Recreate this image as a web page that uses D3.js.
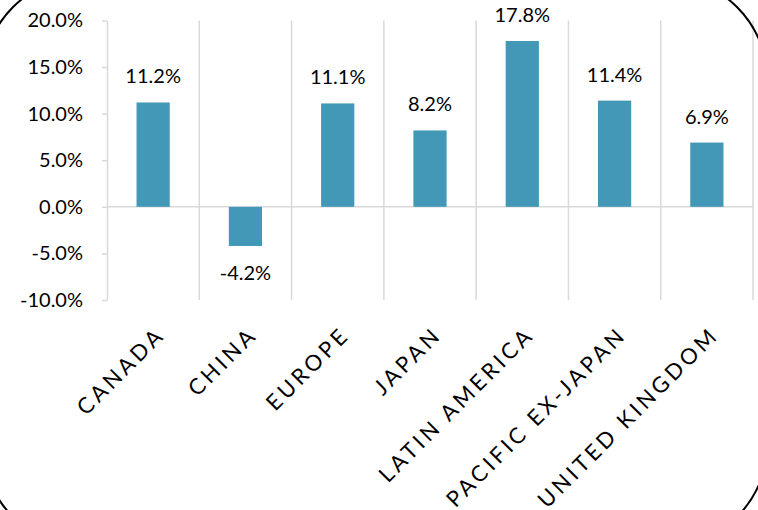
<!doctype html>
<html lang="en">
  <head>
    <meta charset="utf-8">
    <title>Regional returns</title>
    <style>
      body { margin: 0; background: #fff; }
      svg { display: block; font-family: Lato, "Open Sans", sans-serif; }
    </style>
  </head>
  <body>
    <script src="https://d3js.org/d3.v7.min.js"></script>
    <script>
      var regions = ['CANADA', 'CHINA', 'EUROPE', 'JAPAN', 'LATIN AMERICA', 'PACIFIC EX-JAPAN', 'UNITED KINGDOM'];
      var returns = [11.2, -4.2, 11.1, 8.2, 17.8, 11.4, 6.9];
      var yTicks = [-10, -5, 0, 5, 10, 15, 20];

      var width = 758, height = 510;
      var plot = { left: 107, right: 753, top: 20.5, bottom: 300 };

      var svg = d3.select('body').append('svg')
          .attr('width', width)
          .attr('height', height);

      var x = d3.scaleBand().domain(regions).range([plot.left, plot.right]);
      var y = d3.scaleLinear().domain([-10, 20]).range([plot.bottom, plot.top]);

      var grey = '#d9d9d9';

      // vertical separators between categories
      svg.append('g').selectAll('line')
        .data(regions)
        .enter().append('line')
          .attr('x1', function(d) { return x(d) + x.bandwidth(); })
          .attr('x2', function(d) { return x(d) + x.bandwidth(); })
          .attr('y1', y(20))
          .attr('y2', y(-10))
          .attr('stroke', grey)
          .attr('stroke-width', 1.5);

      // zero line
      svg.append('line')
          .attr('x1', plot.left).attr('x2', plot.right)
          .attr('y1', y(0)).attr('y2', y(0))
          .attr('stroke', grey)
          .attr('stroke-width', 1.5);

      var yAxis = svg.append('g')
          .attr('transform', 'translate(' + plot.left + ',0)')
          .call(d3.axisLeft(y).tickValues(yTicks).tickSize(5).tickSizeOuter(0).tickPadding(19)
            .tickFormat(function(d) { return d.toFixed(1) + '%'; }));
      yAxis.select('.domain').attr('stroke', grey).attr('stroke-width', 1.5);
      yAxis.selectAll('.tick line').attr('stroke', grey).attr('stroke-width', 1.5);
      yAxis.selectAll('.tick text')
          .attr('fill', '#000')
          .style('font-size', '20px')
          .style('font-family', 'Lato, sans-serif');

      var barW = x.bandwidth() * 0.36;

      svg.append('g').selectAll('rect')
        .data(returns)
        .enter().append('rect')
          .attr('x', function(d, i) { return x(regions[i]) + (x.bandwidth() - barW) / 2; })
          .attr('y', function(d) { return y(Math.max(0, d)); })
          .attr('width', barW)
          .attr('height', function(d) { return Math.abs(y(d) - y(0)); })
          .attr('fill', '#4398b7');

      // value labels
      svg.append('g').selectAll('text')
        .data(returns)
        .enter().append('text')
          .attr('x', function(d, i) { return x(regions[i]) + x.bandwidth() / 2; })
          .attr('y', function(d) { return d >= 0 ? y(d) - 19 : y(d) + 34; })
          .attr('text-anchor', 'middle')
          .style('font-size', '20px')
          .text(function(d) { return d.toFixed(1) + '%'; });

      // rotated category labels
      svg.append('g').selectAll('text')
        .data(regions)
        .enter().append('text')
          .attr('transform', function(d) {
            return 'translate(' + (x(d) + x.bandwidth() / 2 + 2) + ',325) rotate(-45)';
          })
          .attr('text-anchor', 'end')
          .attr('dy', '0.72em')
          .style('font-size', '22px')
          .style('letter-spacing', '3.5px')
          .text(function(d) { return d; });

      // rounded frame, mostly outside the view
      svg.append('rect')
          .attr('x', -18).attr('y', -24)
          .attr('width', 786).attr('height', 572)
          .attr('rx', 106).attr('ry', 106)
          .attr('fill', 'none')
          .attr('stroke', '#000')
          .attr('stroke-width', 2);
    </script>
  </body>
</html>
